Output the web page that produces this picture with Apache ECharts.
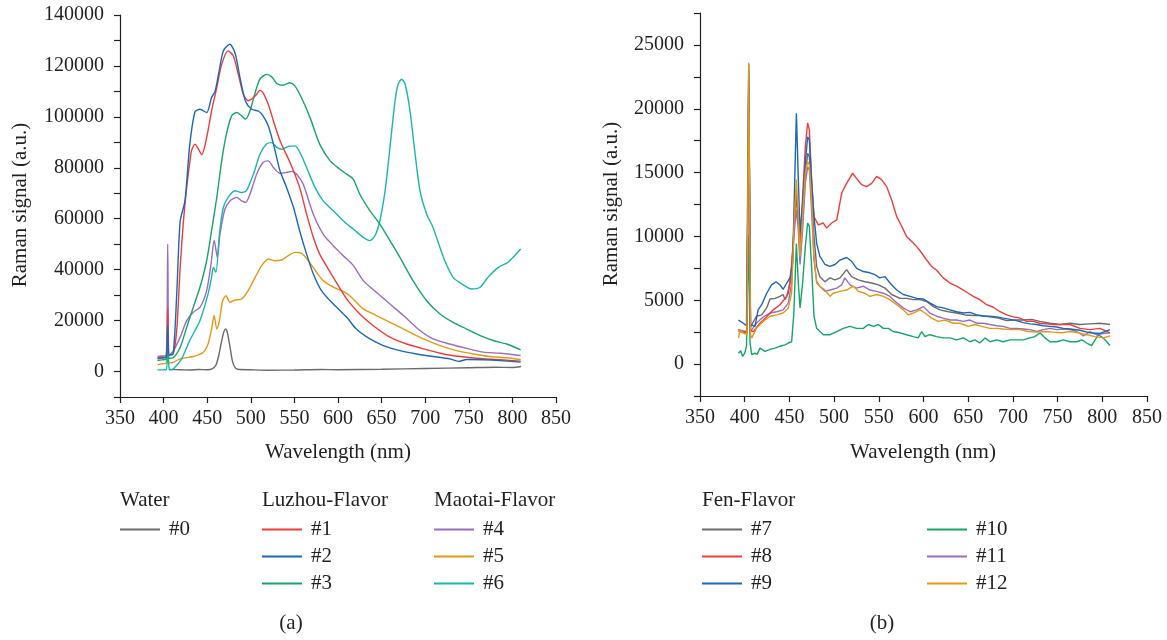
<!DOCTYPE html>
<html>
<head>
<meta charset="utf-8">
<script src="https://cdn.jsdelivr.net/npm/echarts@6/dist/echarts.min.js"></script>
<style>
html,body{margin:0;padding:0;background:#fff;}
#chart{width:1167px;height:640px;}
</style>
</head>
<body>
<div id="chart"></div>
<script>
// ---------- Panel (a) data: wavelength (nm) / Raman signal (a.u.) ----------
const wl0 = [407,420,430,440,450,455,460,463,466,469,471,473,476,479,482,485,500,520,550,580,600,650,700,750,780,800,810];
const v0  = [800,700,600,800,700,900,2500,6000,11000,15500,16700,15500,10000,4000,1500,900,700,500,600,800,700,900,1200,1500,1700,1600,2000];

const wl1 = [393,398,403,404.7,406.5,411,415,419,422.5,426.5,430,432,436,440,443.7,449.4,455,461,466.6,474,480,485.7,491.4,497,505,510.5,514,520,526,533.5,545,556,564,571.7,579,594.6,610,625,640.5,659.6,678.7,698,721,740,766.7,786,809.5];
const v1  = [5400,5600,5800,24600,6500,7000,16000,40900,58000,72300,82000,86700,89300,87300,85100,91900,102300,111500,120600,125900,123900,116700,108900,106300,108200,110400,109500,105000,98400,90600,82100,72300,61800,52700,46100,37000,28500,22600,18000,13500,10800,8900,6900,5900,5000,4600,4100];

const wl2 = [393,398,403,404.7,406.5,411,415,419,424.5,430,436,441.7,449.4,455,459,463,468.5,476,482,487.6,494,501,508.6,514,520,526,533.5,541,549,556,564,571.7,581,594.6,610,621,636.7,652,671,690,709,728,738,747.5,766.7,786,809.5];
const v2  = [5000,5300,5600,18000,6500,7000,30000,59000,67000,89000,102000,103000,101700,107600,110000,116700,125900,128500,125000,115400,106000,103000,102300,100400,96500,89300,78800,72300,64400,55300,46100,38300,31800,26500,21300,16700,12800,10200,8200,6900,5900,5000,4000,4700,4600,4300,3700];

const wl3 = [393,398,403,404.7,406.5,411,419,426.5,434,441.7,449.4,455,461,466.6,472,478,484,489.5,494,499,505,510.5,518,524,529.7,537,545,550.7,558,568,579,591,602,610,617.6,625,636.7,648,659.6,671,686,701.7,717,732,747.5,763,778,793.4,809.5];
const v3  = [4300,4600,4900,9000,5200,5400,9500,17400,25200,33100,43500,55300,68400,82700,93200,100400,101700,100400,99100,102300,109500,114800,116700,115700,113100,112400,113400,112100,107600,99700,89300,82700,79500,77500,75500,69600,63100,57900,51400,44800,35700,27800,22600,19300,16700,14100,12200,10800,8500];

const wl4 = [393,398,403,404.7,406.5,411,419,426.5,434,441.7,449.4,454.4,458,461.6,464.7,470.4,476,484,489.5,494,499,506.7,514,520,526,533.5,541,547,552.6,560,571.7,583,594.6,606,617.6,629,644,659.6,675,694,709,728,747.5,766.7,786,809.5];
const v4  = [5900,6100,6300,50000,6500,8000,13500,20000,23300,25200,31800,42200,51600,44800,54000,63800,67000,68400,67000,66400,69600,77500,82100,82700,80100,77800,78200,78600,77500,73600,61800,54000,49400,45500,41600,35700,31100,26500,22000,16100,12800,10800,9100,7600,7200,6300];

const wl5 = [393,398,403,404.7,406.5,411,419,434,445.6,451,455,458,461,464,467.7,471.6,476,482,489.5,497,505,512.5,520,527.8,535.4,543,550.7,558,566,575.5,583,594.6,608,615.7,629,644,659.6,678.7,698,717,736,755,774,793.4,809.5];
const v5  = [2600,3000,3300,12000,3400,3600,5000,5900,7600,10800,16700,22000,16700,20000,27800,29800,27200,28100,28500,31800,37000,41600,44200,43500,43800,45500,46800,46500,43500,38900,35700,33100,31100,29100,24600,22000,19300,16100,12800,10200,8200,6900,5900,5400,4700];

const wl6 = [393,398,403,404.7,406.5,409,413,420.7,430,441.7,451,455,457,460,464,468.5,474,482,489.5,495,503,510.5,518,524,529.7,535.4,543,550.7,556.4,564,573.6,583,594.6,606,617.6,629,636.7,642.4,648,654,659.6,665.4,669,673,677,682.6,688,694,701.7,709,721,732,742,753,763,772,784,795,809.5];
const v6  = [650,650,700,8200,900,650,1700,5000,12200,20000,30500,37000,40900,39000,54000,64400,68400,71000,70300,71000,77500,85300,89300,89900,88000,87300,88400,88600,86000,80100,72300,67000,63100,59200,55900,52700,51400,53300,59200,71000,88000,106300,112800,114800,112800,102300,86700,71000,61800,56600,44800,37000,34400,32400,33100,37000,40900,42900,48100];

// ---------- Panel (b) data ----------
const wl7 = [393,398,402.5,404.5,406.5,407.8,413,419,424.6,428.3,434,439.5,443,445,448.8,452.5,455,457.8,460,461.9,464.8,467.8,470.4,472.3,475,477.5,480.5,484,489.8,495.4,501,506.6,514,519.6,527,534.5,542,549.5,557,564.4,573.7,581,588.6,596,603.5,611,618.5,627.8,637,646.4,655.7,665,674.4,683.7,693,702.4,711.7,721,730,741.5,752.7,764,775,786,797.4,808.6];
const v7  = [2700,2600,2550,22000,2900,2800,3750,3850,4400,5100,5150,5300,5450,5050,5550,7400,10500,13100,11300,8150,11550,14700,16500,16250,13100,10000,7650,6850,6450,6750,6600,6750,7400,6850,6600,6450,6350,6200,5950,5450,5150,5150,5050,5050,4900,4500,4250,4100,4000,3850,3800,3800,3700,3600,3400,3450,3450,3500,3350,3200,3100,3200,3100,3150,3200,3100];

const wl8 = [393,398,402.5,404.5,406.5,409.7,417,424.6,432,439.5,447,450.7,454.4,457.4,460,461.9,464.8,467.8,470.4,472.3,474.9,477.5,482.4,488,491.7,497.3,503,508.5,514,520.8,525,530.8,536.4,542,547.6,553,558.8,564.4,570,575.6,581,586.8,592.4,598,603.5,609,614.7,622,629.6,637,644.6,650,655.7,663,670.7,678,685.6,693,700.5,708,715.4,723,730,737.8,745,756.4,763.9,775,786,797.4,808.6];
const v8  = [2550,2500,2450,23000,2600,2550,3200,3700,4250,4650,5300,6350,9500,13650,11550,9200,13100,17000,18900,18350,14400,11550,10900,11050,10650,11050,11300,13400,14150,14950,14550,14050,13900,14150,14700,14450,13900,12850,11550,10800,10000,9600,9200,8700,8150,7650,7350,6750,6350,6100,5800,5550,5300,5050,4650,4450,4100,3850,3700,3600,3350,3350,3200,3150,3100,3100,3100,2800,2700,2800,2450];

const wl9 = [393,398.5,402,404.5,406.5,407.8,411.5,415,419,424.6,430,435,439.5,443,447,450.7,453.6,455.5,457.8,460,461.9,464.8,467.8,470.4,472.3,475,477.5,480.5,484,489.8,495.4,501,506.6,514,519.6,525.2,532.7,540,545.7,551,557,562.5,570,577.4,585,592.4,600,607,614.7,622,629.6,637,644.6,652,659.5,667,674,682,689,696.8,704,711.7,719,726.6,734,741.5,749,756.4,764,775,786,797.4,808.6];
const v9  = [3450,3200,3000,23500,3100,3100,2950,4250,4650,5550,6200,6450,6200,5850,6350,6750,7900,13100,19650,14450,10250,12600,15750,17800,17550,14150,11550,9450,8450,7800,7650,7800,8150,8350,8050,7500,7250,7150,7000,6750,6850,6350,5800,5450,5300,5150,5100,4800,4500,4400,4250,4100,4000,4050,3850,3750,3750,3700,3600,3500,3400,3250,3150,3100,3000,2950,2900,2800,2750,2650,2450,2400,2700];

const wl10 = [393,395.5,397.7,400,402,404,406,407.8,411.5,414,417,422.7,428.3,434,439.5,445,448.8,452.5,455,457.8,460,461.9,464.8,467.8,470.4,472.3,475,477.5,480.5,484,488,495.4,503,510.3,517.8,525,532.7,538.3,544,549.5,555,560.7,566,573.7,581,588.6,594,598,601.7,607,614.7,622,629.6,637,644.6,652,657.6,663,668.8,674.4,682,689,696.8,704,711.7,719,724.7,730.3,736,741.5,749,756.4,764,771.4,777,782.7,788,792,795.6,801,805,808.6];
const v10  = [850,1050,600,850,1400,10100,1650,750,850,750,1250,1000,1150,1250,1400,1500,1650,1750,4000,9450,6350,4400,6350,9200,11050,10800,7400,3750,2800,2550,2300,2300,2550,2800,2950,2800,2800,3100,2950,3100,2800,2800,2550,2450,2300,2150,2050,2550,2150,2300,2150,2050,2050,1900,2050,1750,1900,1650,2050,1750,1900,1750,1900,1900,1900,2050,2150,2450,2050,1750,1750,1900,1750,1750,1900,1650,1450,1900,2300,2050,1750,1450];

const wl11 = [393,398,402.5,404.5,406.5,413,421,428.3,435.8,443,448.8,452.5,455,457.8,460,461.9,464.8,467.8,470.4,472.3,475,477.5,480.5,484,489.8,495.4,503,508.5,512,517.8,525,532.7,540,547.6,555,562.5,570,577.4,585,592.4,600,607,614.7,622,629.6,637,644.6,652,659.5,667,674.4,682,689,696.8,704,711.7,719,726.6,734,741.5,749,756.4,764,771.4,779,786,793.4,801,808.6];
const v11  = [2700,2500,2500,21000,2550,3200,3700,4000,4100,4250,4800,6350,10000,12100,10500,7800,10500,14150,15450,15200,11800,8150,6450,6100,5700,5800,5950,6200,6750,6200,5950,6100,5800,5700,5550,5300,4800,4400,4100,4250,4500,4000,3750,3600,3450,3450,3350,3450,3200,3200,3100,3000,2950,2800,2800,2750,2700,2550,2700,2800,2700,2750,2700,2550,2200,2550,2300,2400,2450];

const wl12 = [393,395,398,402.5,404.5,406.5,408,413,421,428.3,435.8,443,448.8,452.5,455,457.8,460,461.9,464.8,467.8,470.4,472.3,475,477.5,480.5,484,489.8,495.4,499,506.6,514,521.5,527,534.5,540,547.6,555,562.5,570,577.4,583,588.6,596,601.7,609,616.6,624,633.4,640.8,650,657.6,665,674.4,682,689,698.6,708,717,726.6,736,745,754.6,764,773,782.7,792,801,808.6];
const v12  = [2050,2700,2450,2300,23600,2300,2050,2800,3350,3750,3850,4000,4400,5550,10500,14450,11550,8450,11550,14950,15850,15600,12600,8450,6350,6100,5800,5300,5550,5700,5800,6100,5700,5550,5300,5450,5300,5050,4650,4250,3850,4000,4250,4000,3600,3350,3450,3200,3200,2950,3100,2950,2800,2800,2750,2700,2700,2550,2500,2550,2500,2450,2550,2450,2300,2150,2050,2200];

// ---------- labels ----------
const xTicks = {min: 350, max: 850, step: 50};
const groupA = [{title: 'Water', names: ['#0']}, {title: 'Luzhou-Flavor', names: ['#1','#2','#3']}, {title: 'Maotai-Flavor', names: ['#4','#5','#6']}];
const groupB = [{title: 'Fen-Flavor', names: ['#7','#8','#9']}, {title: '', names: ['#10','#11','#12']}];
const yTitle = 'Raman signal (a.u.)';
const xTitle = 'Wavelength (nm)';

// ---------- styling ----------
const C = {gray:'#6b6b6b', red:'#ef3c3a', blue:'#1b67b9', green:'#14a668', purple:'#9a6dbd', orange:'#e29a16', teal:'#17b7b0'};
const FONT = '"Liberation Serif", "DejaVu Serif", serif';
const INK = '#231f20';

function zip(xs, ys){ const n = Math.min(xs.length, ys.length); const out=[]; for(let i=0;i<n;i++) out.push([xs[i], ys[i]]); return out; }

const seriesDefs = [
  {name:'#0', x:wl0, y:v0, c:C.gray, g:0},
  {name:'#5', x:wl5, y:v5, c:C.orange, g:0},
  {name:'#4', x:wl4, y:v4, c:C.purple, g:0},
  {name:'#6', x:wl6, y:v6, c:C.teal, g:0},
  {name:'#3', x:wl3, y:v3, c:C.green, g:0},
  {name:'#1', x:wl1, y:v1, c:C.red, g:0},
  {name:'#2', x:wl2, y:v2, c:C.blue, g:0},
  {name:'#10', x:wl10, y:v10, c:C.green, g:1},
  {name:'#7', x:wl7, y:v7, c:C.gray, g:1},
  {name:'#11', x:wl11, y:v11, c:C.purple, g:1},
  {name:'#8', x:wl8, y:v8, c:C.red, g:1},
  {name:'#9', x:wl9, y:v9, c:C.blue, g:1},
  {name:'#12', x:wl12, y:v12, c:C.orange, g:1}
];

const series = seriesDefs.map(s => ({
  name: s.name, type: 'line', xAxisIndex: s.g, yAxisIndex: s.g,
  data: zip(s.x, s.y), showSymbol: false, symbol: 'none',
  smooth: s.g === 0 ? 0.25 : false,
  lineStyle: {color: s.c, width: 1.4}, itemStyle: {color: s.c},
  emphasis: {disabled: true}, z: 2
}));

function xAxisDef(idx){
  return {
    type:'value', gridIndex: idx, min: xTicks.min, max: xTicks.max, interval: xTicks.step,
    axisLine: {show:true, onZero:false, lineStyle:{color:INK, width:1.2}},
    axisTick: {show:true, inside:false, length:6, lineStyle:{color:INK, width:1.2}},
    axisLabel: {color:INK, fontSize:20, fontFamily:FONT, margin:12},
    splitLine: {show:false}
  };
}
function yAxisDef(idx, min, max, step, labelStep){
  return {
    type:'value', gridIndex: idx, min: min, max: max, interval: step,
    axisLine: {show:true, onZero:false, lineStyle:{color:INK, width:1.2}},
    axisTick: {show:true, inside:false, length:6, lineStyle:{color:INK, width:1.2}},
    axisLabel: {color:INK, fontSize:20, fontFamily:FONT, margin:16,
      formatter: v => (v >= 0 && Math.round(v) % labelStep === 0) ? String(v) : ''},
    splitLine: {show:false}
  };
}

const legendText = {color: INK, fontSize: 21, fontFamily: FONT, lineHeight: 21, padding: [0,0,0,4]};
function legendAt(names, left, top){
  return {data: names, left: left, top: top, orient:'vertical', icon:'rect', itemWidth:40, itemHeight:2,
    itemGap: 6, padding: 0, selectedMode: false, textStyle: legendText};
}

const legends = [
  legendAt(groupA[0].names, 120, 519),
  legendAt(groupA[1].names, 262, 519),
  legendAt(groupA[2].names, 434, 519),
  legendAt(groupB[0].names, 702, 519),
  legendAt(groupB[1].names, 927, 519)
];

function txt(t, x, y, align){
  return {type:'text', x:x, y:y, silent:true,
    style:{text:t, fill:INK, font:'21px ' + FONT, textAlign: align || 'left', textVerticalAlign:'middle'}};
}
const graphics = [
  txt(groupA[0].title, 120, 500),
  txt(groupA[1].title, 262, 500),
  txt(groupA[2].title, 434, 500),
  txt(groupB[0].title, 702, 500),
  txt('(a)', 291, 623, 'center'),
  txt('(b)', 882, 623, 'center'),
  txt(xTitle, 338, 452, 'center'),
  txt(xTitle, 923, 452, 'center'),
  Object.assign(txt(yTitle, 20, 205, 'center'), {rotation: Math.PI/2}),
  Object.assign(txt(yTitle, 611, 204, 'center'), {rotation: Math.PI/2})
];

const chart = echarts.init(document.getElementById('chart'), null, {renderer:'canvas'});
chart.setOption({
  animation: false,
  backgroundColor: '#ffffff',
  grid: [
    {left:120, top:15, width:436, height:382},
    {left:700, top:13, width:447, height:383}
  ],
  xAxis: [xAxisDef(0), xAxisDef(1)],
  yAxis: [yAxisDef(0, -10000, 140000, 10000, 20000), yAxisDef(1, -2500, 27500, 2500, 5000)],
  legend: legends,
  graphic: graphics,
  series: series
});
</script>
</body>
</html>
